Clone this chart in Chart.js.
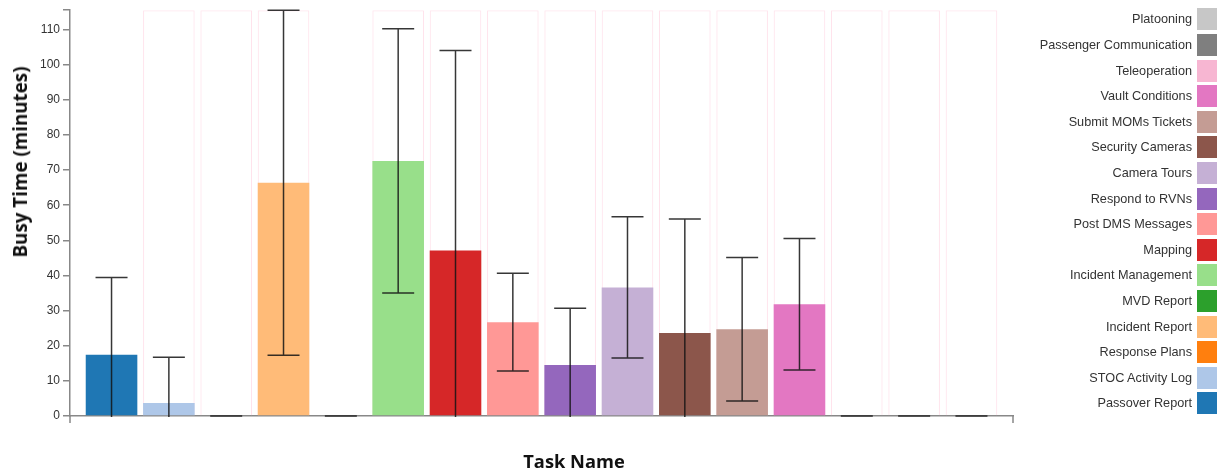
<!DOCTYPE html>
<html>
<head>
<meta charset="utf-8">
<script src="https://cdn.jsdelivr.net/npm/chart.js@4.4.1/dist/chart.umd.min.js"></script>
<style>
  html, body { margin: 0; padding: 0; background: #fff; overflow: hidden; }
  #wrap { position: relative; width: 1217px; height: 472px; }
  #chart { position: absolute; left: 0; top: 0; }
  .axis-title { position: absolute; font-family: "Open Sans", "Noto Sans", sans-serif; font-weight: 700; color: #111; white-space: nowrap; }
  #ytitle { left: 20px; top: 162px; font-size: 18.8px; transform: translate(-50%, -50%) rotate(-90deg); }
  #xtitle { left: 574px; top: 460px; font-size: 18.3px; transform: translate(-50%, -50%); }
  .lg-item { position: absolute; height: 22px; }
  .lg-text { position: absolute; right: 25px; font-family: "Liberation Sans", Arial, sans-serif; font-size: 12.7px; line-height: 22px; color: #333; white-space: nowrap; text-align: right; }
  .lg-box { position: absolute; left: 1197px; width: 22px; height: 22px; }
</style>
</head>
<body>
<div id="wrap">
  <canvas id="chart" width="1217" height="472"></canvas>
  <div class="axis-title" id="ytitle">Busy Time (minutes)</div>
  <div class="axis-title" id="xtitle">Task Name</div>
  <div id="legend"></div>
</div>
<script>
// ---- data ----
const categories = [
  "Passover Report", "STOC Activity Log", "Response Plans", "Incident Report",
  "MVD Report", "Incident Management", "Mapping", "Post DMS Messages",
  "Respond to RVNs", "Camera Tours", "Security Cameras", "Submit MOMs Tickets",
  "Vault Conditions", "Teleoperation", "Passenger Communication", "Platooning"
];
const meanMinutes = [17.4, 3.7, 0, 66.4, 0, 72.6, 47.1, 26.7, 14.5, 36.6, 23.6, 24.7, 31.8, 0, 0, 0];
const stdDevMinutes = [22.0, 13.0, 0, 49.1, 0, 37.6, 56.9, 13.9, 16.2, 20.1, 32.5, 20.4, 18.7, 0, 0, 0];
const colors = [
  "#1f77b4", "#aec7e8", "#ff7f0e", "#ffbb78", "#2ca02c", "#98df8a", "#d62728", "#ff9896",
  "#9467bd", "#c5b0d5", "#8c564b", "#c49c94", "#e377c2", "#f7b6d2", "#7f7f7f", "#c7c7c7"
];
const bandShown = [false, true, true, true, false, true, true, true, true, true, true, true, true, true, true, true];
const yTickStep = 10;
const Y_MAX = 115.5;

// ---- legend (reverse order, text right-aligned, swatch on the right) ----
const legendEl = document.getElementById('legend');
categories.slice().reverse().forEach((name, k) => {
  const idx = categories.length - 1 - k;
  const top = 8.3 + k * 25.6;
  const item = document.createElement('div');
  item.className = 'lg-item';
  item.style.top = top + 'px';
  item.style.left = '0px';
  item.style.width = '1217px';
  const t = document.createElement('div');
  t.className = 'lg-text';
  t.textContent = name;
  const b = document.createElement('div');
  b.className = 'lg-box';
  b.style.background = colors[idx];
  item.appendChild(t);
  item.appendChild(b);
  legendEl.appendChild(item);
});

// ---- plugins ----
const errorBars = {
  id: 'errorBars',
  afterDatasetsDraw(chart) {
    const { ctx, chartArea, scales } = chart;
    const xs = scales.x, ys = scales.y;
    ctx.save();
    ctx.beginPath();
    ctx.rect(chartArea.left, chartArea.top - 3, chartArea.right - chartArea.left, chartArea.bottom - chartArea.top + 4);
    ctx.clip();
    ctx.strokeStyle = 'rgba(20,20,20,0.85)';
    ctx.lineWidth = 1.5;
    meanMinutes.forEach((m, i) => {
      const sd = stdDevMinutes[i];
      const x = xs.getPixelForValue(i);
      const yHi = ys.getPixelForValue(m + sd);
      const yLo = ys.getPixelForValue(m - sd);
      const half = 16;
      ctx.beginPath();
      ctx.moveTo(x, yLo); ctx.lineTo(x, yHi);
      ctx.moveTo(x - half, yHi); ctx.lineTo(x + half, yHi);
      ctx.moveTo(x - half, yLo); ctx.lineTo(x + half, yLo);
      ctx.stroke();
    });
    ctx.restore();
  }
};
const outerTicks = {
  id: 'outerTicks',
  afterDraw(chart) {
    const { ctx, chartArea } = chart;
    ctx.save();
    ctx.strokeStyle = '#888';
    ctx.lineWidth = 1.5;
    ctx.beginPath();
    ctx.moveTo(chartArea.left, chartArea.bottom); ctx.lineTo(chartArea.left, chartArea.bottom + 7);
    ctx.moveTo(chartArea.right, chartArea.bottom); ctx.lineTo(chartArea.right, chartArea.bottom + 7);
    ctx.stroke();
    ctx.restore();
  }
};

// ---- chart ----
new Chart(document.getElementById('chart'), {
  type: 'bar',
  data: {
    datasets: [
      {
        label: 'Busy Time',
        data: meanMinutes.map((v, i) => ({ x: i, y: v })),
        backgroundColor: colors,
        borderWidth: 0,
        grouped: false,
        categoryPercentage: 1,
        barPercentage: 0.9,
        order: 1
      },
      {
        label: 'band',
        data: bandShown.map((s, i) => ({ x: i, y: s ? Y_MAX : null })),
        backgroundColor: 'rgba(0,0,0,0)',
        borderColor: '#ffe3ec',
        borderWidth: 1,
        grouped: false,
        categoryPercentage: 1,
        barPercentage: 0.9,
        order: 2
      }
    ]
  },
  options: {
    responsive: false,
    animation: false,
    layout: { padding: { top: 8, right: 204, left: 0, bottom: 0 } },
    plugins: { legend: { display: false }, tooltip: { enabled: false } },
    scales: {
      x: {
        type: 'linear',
        offset: false,
        min: -0.7245,
        max: 15.7245,
        ticks: { display: false },
        grid: { display: false, offset: false },
        border: { display: true, color: '#888', width: 1.5 },
        afterFit(scale) { scale.height = 56; }
      },
      y: {
        min: 0,
        max: Y_MAX,
        ticks: {
          stepSize: yTickStep,
          padding: 3,
          color: '#333',
          font: { family: '"Liberation Sans", Arial, sans-serif', size: 12 },
          callback: (v) => (v % yTickStep === 0 ? String(v) : '')
        },
        grid: { drawOnChartArea: false, drawTicks: true, tickLength: 7, color: '#888', lineWidth: 1.5 },
        border: { display: true, color: '#888', width: 1.5 },
        afterFit(scale) { scale.width = 70; }
      }
    }
  },
  plugins: [errorBars, outerTicks]
});
</script>
</body>
</html>
